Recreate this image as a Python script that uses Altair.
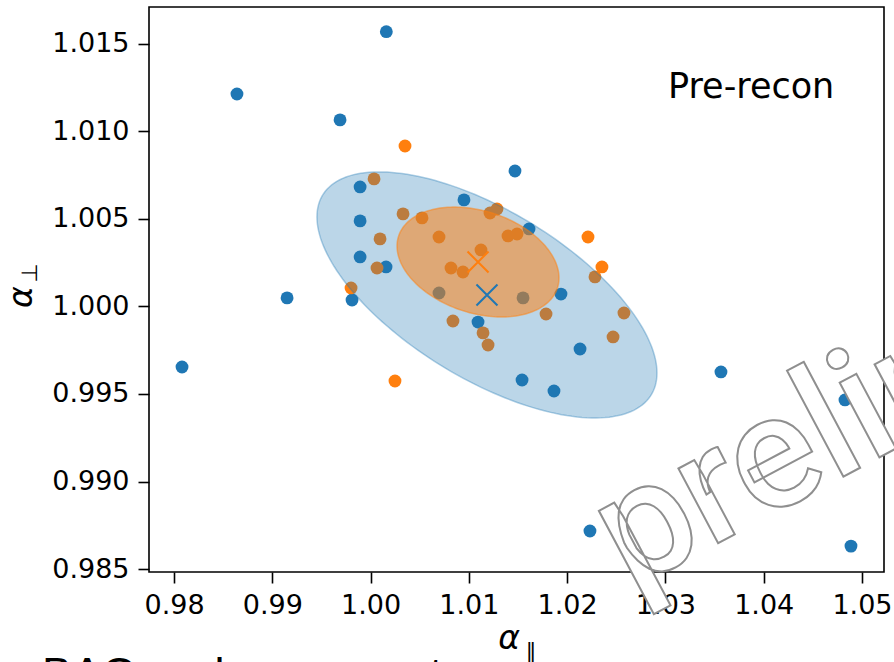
import altair as alt
import pandas as pd
import numpy as np

# ---- data ----
blue_x = [1.0016, 0.9864, 0.99689, 0.99893, 0.99893, 0.99893, 1.00157, 0.99150, 0.99811,
          0.98081, 1.01469, 1.00950, 1.01612, 1.01937, 1.01093, 1.02131, 1.01541, 1.01866,
          1.03565, 1.04827, 1.03799, 1.02232, 1.04888, 1.00696, 1.01551]
blue_y = [1.0157, 1.01214, 1.01066, 1.00683, 1.00489, 1.00283, 1.00226, 1.00049, 1.00037,
          0.99654, 1.00774, 1.00609, 1.00443, 1.00071, 0.99911, 0.99757, 0.99580, 0.99517,
          0.99626, 0.99466, 0.99140, 0.98717, 0.98631, 1.00077, 1.00049]

orange_x = [1.00350, 1.00035, 1.00330, 1.00523, 1.00096, 1.00696, 1.00065, 0.99801, 1.01215,
            1.01286, 1.01123, 1.00818, 1.00940, 1.01398, 1.01490, 1.01785, 1.00838, 1.01144,
            1.01195, 1.02212, 1.02354, 1.02283, 1.02578, 1.02467, 1.00248]
orange_y = [1.00917, 1.00729, 1.00529, 1.00506, 1.00386, 1.00397, 1.00220, 1.00106, 1.00534,
            1.00557, 1.00323, 1.00220, 1.00197, 1.00403, 1.00414, 0.99957, 0.99917, 0.99849,
            0.99780, 1.00397, 1.00226, 1.00169, 0.99963, 0.99826, 0.99574]

# means (X markers)
mean_series = ["blue", "orange"]
mean_x = [1.01184, 1.01093]
mean_y = [1.00066, 1.00254]

# ellipse parameters: centre (= mean), sigma_par, sigma_perp, correlation
ell_series = ["blue", "orange"]
ell_sx = [0.01730, 0.00824]
ell_sy = [0.00703, 0.00314]
ell_rho = [-0.634, -0.29]

x_ticks = [0.98, 0.99, 1.00, 1.01, 1.02, 1.03, 1.04, 1.05]
y_ticks = [0.985, 0.990, 0.995, 1.000, 1.005, 1.010, 1.015]
x_domain = [0.97745, 1.05224]
y_domain = [0.98483, 1.01711]

BLUE = "#1f77b4"
ORANGE = "#ff7f0e"

# ---- tables ----
pts = pd.DataFrame({
    "apar": blue_x + orange_x,
    "aperp": blue_y + orange_y,
    "series": ["blue"] * len(blue_x) + ["orange"] * len(orange_x),
})

rows = []
t = np.linspace(0, 2 * np.pi, 181)
for s, cx, cy, sx, sy, r in zip(ell_series, mean_x, mean_y, ell_sx, ell_sy, ell_rho):
    ex = cx + sx * np.cos(t)
    ey = cy + sy * (r * np.cos(t) + np.sqrt(1 - r * r) * np.sin(t))
    for i, (a, b) in enumerate(zip(ex, ey)):
        rows.append({"series": s, "i": i, "apar": a, "aperp": b})
ell = pd.DataFrame(rows)

means = pd.DataFrame({"series": mean_series, "apar": mean_x, "aperp": mean_y})

xs = alt.Scale(domain=x_domain, nice=False, zero=False)
ys = alt.Scale(domain=y_domain, nice=False, zero=False)
cscale = alt.Scale(domain=["blue", "orange"], range=[BLUE, ORANGE])

xenc = alt.X("apar:Q", scale=xs, axis=alt.Axis(values=x_ticks, format=".2f", title=None))
yenc = alt.Y("aperp:Q", scale=ys, axis=alt.Axis(values=y_ticks, format=".3f", title=None))

dots = alt.Chart(pts).mark_circle(size=165, opacity=1).encode(
    x=xenc, y=yenc, color=alt.Color("series:N", scale=cscale, legend=None)
)

ell_blue = alt.Chart(ell[ell.series == "blue"]).mark_line(
    fill=BLUE, fillOpacity=0.3, stroke=BLUE, strokeOpacity=0.35, strokeWidth=1.5
).encode(x=xenc, y=yenc, order="i:Q")

ell_orange = alt.Chart(ell[ell.series == "orange"]).mark_line(
    fill=ORANGE, fillOpacity=0.52, stroke=ORANGE, strokeOpacity=0.5, strokeWidth=1.5
).encode(x=xenc, y=yenc, order="i:Q")

xmark = alt.Chart(means).mark_point(
    shape="M-1,-1L1,1M-1,1L1,-1", filled=False, size=441, strokeWidth=2, opacity=1
).encode(x=xenc, y=yenc, color=alt.Color("series:N", scale=cscale, legend=None))

label_df = pd.DataFrame({"k": [0]})

def txt(text, x, y, size, **kw):
    return alt.Chart(label_df).mark_text(text=text, fontSize=size, **kw).encode(
        x=alt.value(x), y=alt.value(y)
    )

prerecon = txt("Pre-recon", 519, 91, 35, font="DejaVu Sans", align="left",
               baseline="alphabetic", color="black")

ylab = txt("α", -127, 290, 33, font="DejaVu Sans", fontStyle="italic", angle=270,
           align="center", baseline="middle", color="black")
ylab_sub = txt("⊥", -119, 266, 22, font="DejaVu Sans", angle=270,
               align="center", baseline="middle", color="black")
xlab = txt("α", 360, 632, 33, font="DejaVu Sans", fontStyle="italic",
           align="center", baseline="middle", color="black")
xlab_sub = txt("∥", 382, 645, 22, font="DejaVu Sans",
               align="center", baseline="middle", color="black")

bottom = txt("BAO and errors on two measures", -107, 682, 45, font="Liberation Sans",
             align="left", baseline="alphabetic", color="black")

watermark = alt.Chart(label_df).mark_text(
    text="preliminary", fontSize=160, font="Roboto", fontWeight=500, angle=332,
    align="left", baseline="alphabetic", fill="white", stroke="#8f8f8f",
    strokeWidth=2
).encode(x=alt.value(481), y=alt.value(583))

chart = alt.layer(
    dots, ell_blue, ell_orange, xmark, prerecon, watermark,
    ylab, ylab_sub, xlab, xlab_sub, bottom
).properties(
    width=735, height=565,
    autosize=alt.AutoSizeParams(type="none"),
    padding={"left": 149, "top": 7, "right": 10, "bottom": 90},
    background="white",
).configure_view(
    stroke="black", strokeWidth=1.6
).configure_axis(
    grid=False, domain=False, ticks=True, tickSize=11, tickWidth=1.6,
    tickColor="black", labelFont="DejaVu Sans", labelFontSize=27,
    labelColor="black", labelPadding=9
)

chart.save("out.html", embed_options={"renderer": "svg", "actions": False})
